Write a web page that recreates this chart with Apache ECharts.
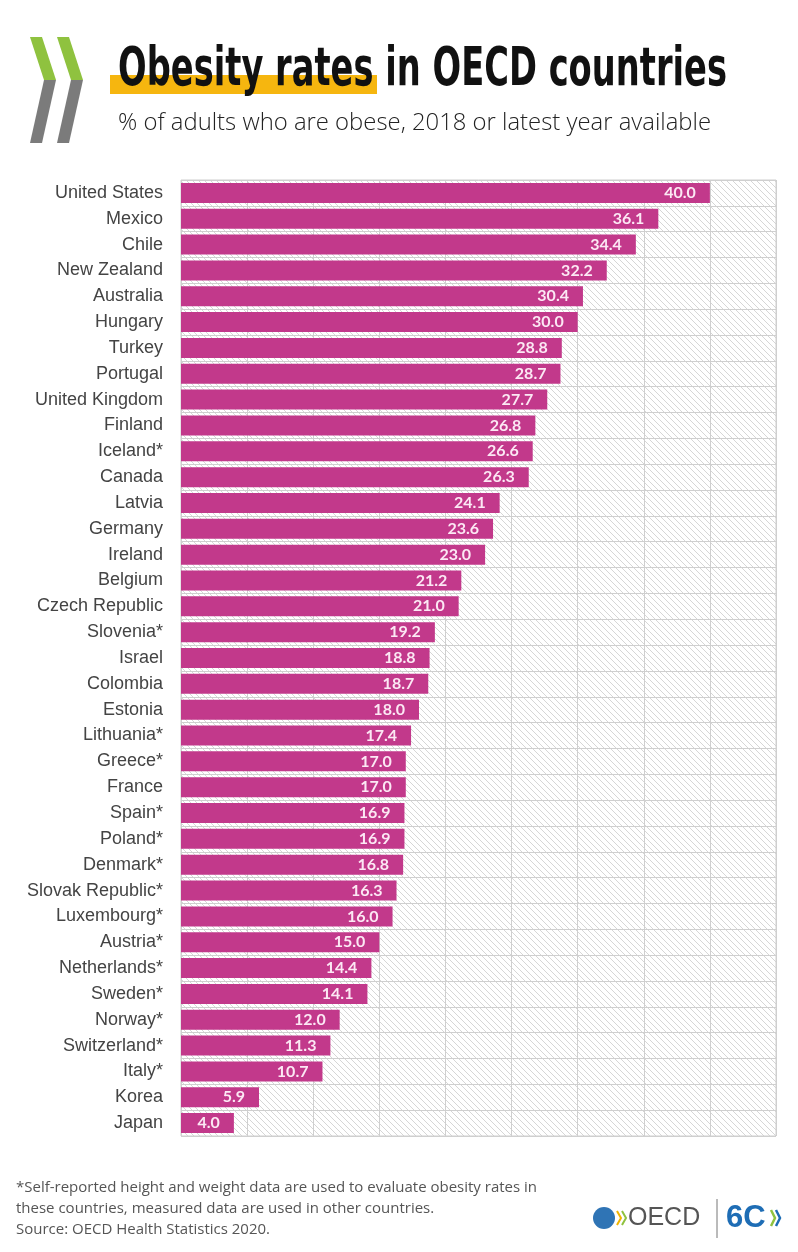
<!DOCTYPE html>
<html lang="en">
<head>
    <meta charset="utf-8"/>
    <script src="https://cdn.jsdelivr.net/npm/echarts@6.0.0/dist/echarts.min.js"></script>
    <title>Obesity rates in OECD countries</title>
    <style>
        html, body { margin: 0; padding: 0; background: #fff; }
        #main { width: 798px; height: 1252px; }
    </style>
</head>
<body>
<div id="main"></div>
<script type="text/javascript">

    // data
    var countries = [
        'United States', 'Mexico', 'Chile', 'New Zealand', 'Australia', 'Hungary', 'Turkey',
        'Portugal', 'United Kingdom', 'Finland', 'Iceland*', 'Canada', 'Latvia', 'Germany',
        'Ireland', 'Belgium', 'Czech Republic', 'Slovenia*', 'Israel', 'Colombia', 'Estonia',
        'Lithuania*', 'Greece*', 'France', 'Spain*', 'Poland*', 'Denmark*', 'Slovak Republic*',
        'Luxembourg*', 'Austria*', 'Netherlands*', 'Sweden*', 'Norway*', 'Switzerland*',
        'Italy*', 'Korea', 'Japan'
    ];
    var obesity = [
        40.0, 36.1, 34.4, 32.2, 30.4, 30.0, 28.8,
        28.7, 27.7, 26.8, 26.6, 26.3, 24.1, 23.6,
        23.0, 21.2, 21.0, 19.2, 18.8, 18.7, 18.0,
        17.4, 17.0, 17.0, 16.9, 16.9, 16.8, 16.3,
        16.0, 15.0, 14.4, 14.1, 12.0, 11.3,
        10.7, 5.9, 4.0
    ];
    var axisMax = 45;
    var axisStep = 5;

    var titleText = 'Obesity rates in OECD countries';
    var subtitleText = '% of adults who are obese, 2018 or latest year available';
    var footLines = [
        '*Self-reported height and weight data are used to evaluate obesity rates in',
        'these countries, measured data are used in other countries.',
        'Source: OECD Health Statistics 2020.'
    ];

    // helper to squeeze a text to a given width
    var ctx = document.createElement('canvas').getContext('2d');
    function fitScale(text, font, width) {
        ctx.font = font;
        return width / ctx.measureText(text).width;
    }

    // hatch pattern behind the bars
    var hatch = document.createElement('canvas');
    hatch.width = 6;
    hatch.height = 6;
    var hc = hatch.getContext('2d');
    hc.fillStyle = '#ffffff';
    hc.fillRect(0, 0, 6, 6);
    hc.strokeStyle = '#d6d6d6';
    hc.lineWidth = 1;
    hc.beginPath();
    hc.moveTo(-1, -1); hc.lineTo(7, 7);
    hc.moveTo(-1, 5); hc.lineTo(1, 7);
    hc.moveTo(5, -1); hc.lineTo(7, 1);
    hc.stroke();

    var titleFont = 'bold 54px "DejaVu Sans Condensed"';
    var titleScale = fitScale(titleText, titleFont, 609);
    var subFont = '300 23px "Open Sans"';
    var subScale = fitScale(subtitleText, subFont, 593);
    var footFont = '15px "Open Sans"';
    var footScale = fitScale(footLines[0], footFont, 521);

    var myChart = echarts.init(document.getElementById('main'));

    var graphics = [
        // yellow marker under the first words of the title
        {type: 'rect', shape: {x: 110, y: 75, width: 267, height: 19}, style: {fill: '#f6b60f'}, z: 1},
        {type: 'text', x: 118, y: 71, scaleX: titleScale, z: 2,
            style: {text: titleText, font: titleFont, fill: '#111', verticalAlign: 'middle'}},
        {type: 'text', x: 118, y: 123, scaleX: subScale,
            style: {text: subtitleText, font: subFont, fill: '#222', verticalAlign: 'middle'}},
        // chevrons of the logo
        {type: 'polygon', shape: {points: [[30, 37], [42, 37], [56, 80], [44, 80]]}, style: {fill: '#8fc23f'}},
        {type: 'polygon', shape: {points: [[44, 80], [56, 80], [42, 143], [30, 143]]}, style: {fill: '#7b7b7b'}},
        {type: 'polygon', shape: {points: [[57, 37], [69, 37], [83, 80], [71, 80]]}, style: {fill: '#8fc23f'}},
        {type: 'polygon', shape: {points: [[71, 80], [83, 80], [69, 143], [57, 143]]}, style: {fill: '#7b7b7b'}},
        // bottom right logo
        {type: 'circle', shape: {cx: 604, cy: 1218, r: 11}, style: {fill: '#2f74b5'}},
        {type: 'polyline', shape: {points: [[617, 1211], [621, 1218], [617, 1225]]}, style: {stroke: '#f0b400', lineWidth: 2, fill: null}},
        {type: 'polyline', shape: {points: [[622, 1211], [626, 1218], [622, 1225]]}, style: {stroke: '#8fc23f', lineWidth: 2, fill: null}},
        {type: 'text', x: 628, y: 1218,
            style: {text: 'OECD', font: '25px "Liberation Sans"', fill: '#555', verticalAlign: 'middle'}},
        {type: 'line', shape: {x1: 717, y1: 1199, x2: 717, y2: 1238}, style: {stroke: '#777', lineWidth: 1}},
        {type: 'text', x: 726, y: 1218,
            style: {text: '6C', font: 'bold 31px "Liberation Sans"', fill: '#1e6db5', verticalAlign: 'middle'}},
        {type: 'polyline', shape: {points: [[771, 1210], [775, 1218], [771, 1226]]}, style: {stroke: '#8fc23f', lineWidth: 2.5, fill: null}},
        {type: 'polyline', shape: {points: [[776, 1210], [780, 1218], [776, 1226]]}, style: {stroke: '#1e6db5', lineWidth: 2.5, fill: null}}
    ];
    footLines.forEach(function (line, i) {
        graphics.push({type: 'text', x: 16, y: 1188 + i * 21, scaleX: footScale,
            style: {text: line, font: footFont, fill: '#555', verticalAlign: 'middle'}});
    });

    var option = {
        backgroundColor: '#ffffff',
        animation: false,
        graphic: graphics,
        grid: {
            left: 181,
            top: 180,
            width: 595,
            height: 956,
            show: true,
            borderColor: '#cfcfcf',
            borderWidth: 1,
            backgroundColor: {image: hatch, repeat: 'repeat'}
        },
        xAxis: {
            type: 'value',
            min: 0,
            max: axisMax,
            interval: axisStep,
            axisLabel: {show: false},
            axisLine: {show: false},
            axisTick: {show: false},
            splitLine: {show: true, lineStyle: {color: '#cfcfcf', width: 1}}
        },
        yAxis: {
            type: 'category',
            inverse: true,
            data: countries,
            axisLine: {show: false},
            axisTick: {show: false},
            splitLine: {show: true, lineStyle: {color: '#cfcfcf', width: 1}},
            axisLabel: {
                margin: 18,
                fontSize: 18,
                fontFamily: 'Liberation Sans',
                color: '#444'
            }
        },
        series: [
            {
                name: 'obese',
                type: 'bar',
                data: obesity,
                barWidth: 20,
                itemStyle: {color: '#c2398b'},
                label: {
                    show: true,
                    position: 'insideRight',
                    distance: 14,
                    formatter: function (p) { return p.value.toFixed(1); },
                    color: '#fce8f4',
                    fontFamily: 'Lato',
                    fontWeight: 'bold',
                    fontSize: 16
                }
            }
        ]
    };
    myChart.setOption(option);

    window.onresize = myChart.resize;
</script>
</body>
</html>
